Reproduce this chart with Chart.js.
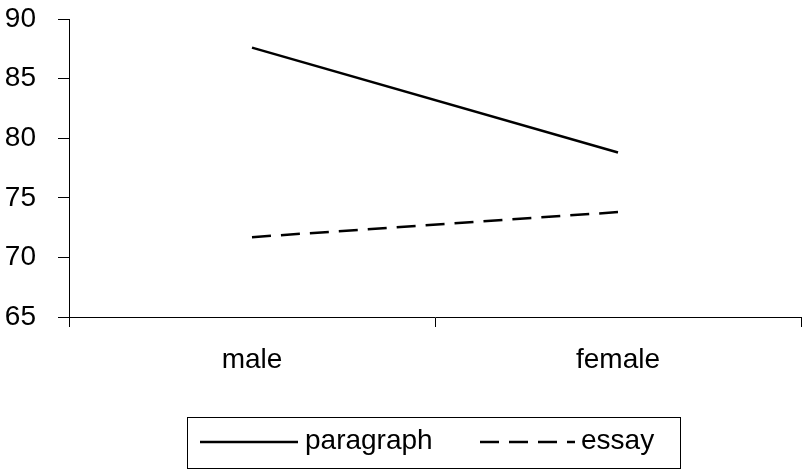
<!DOCTYPE html>
<html>
<head>
<meta charset="utf-8">
<script src="https://cdn.jsdelivr.net/npm/chart.js@4/dist/chart.umd.min.js"></script>
<style>
  body { margin: 0; background: #fff; }
  #linechart-box { width: 802px; height: 473px; }
</style>
</head>
<body>
<div id="linechart-box"><canvas id="linechart-container"></canvas></div>
<script>
//Dados do gráfico
var categorias = ['male', 'female'];
var paragrafo = [87.6, 78.8];
var ensaio = [71.7, 73.8];
var ticksY = [65, 70, 75, 80, 85, 90];

var fonte = "'Liberation Sans', Arial, sans-serif";

//Legenda desenhada à mão, com moldura, como no original
var legendaMoldura = {
  id: 'legendaMoldura',
  afterDraw: function(chart) {
    var ctx = chart.ctx;
    var itens = [
      { ds: chart.data.datasets[0], x0: 200, x1: 298, tx: 305 },
      { ds: chart.data.datasets[1], x0: 480, x1: 575, tx: 581 }
    ];
    var yMeio = 442;
    ctx.save();
    ctx.strokeStyle = '#000';
    ctx.lineWidth = 1;
    ctx.strokeRect(187.5, 417.5, 493, 51);
    itens.forEach(function(item) {
      ctx.beginPath();
      ctx.lineWidth = item.ds.borderWidth;
      ctx.setLineDash(item.ds.borderDash || []);
      ctx.moveTo(item.x0, yMeio);
      ctx.lineTo(item.x1, yMeio);
      ctx.stroke();
      ctx.setLineDash([]);
      ctx.fillStyle = '#000';
      ctx.font = '28px ' + fonte;
      ctx.textBaseline = 'middle';
      ctx.textAlign = 'left';
      ctx.fillText(item.ds.label, item.tx, yMeio - 1);
    });
    ctx.restore();
  }
};

var container = document.getElementById('linechart-container');
var myLineChart = new Chart(container, {
  type: 'line',
  data: {
    labels: categorias,
    datasets: [
      {
        label: 'paragraph',
        data: paragrafo,
        borderColor: '#000',
        backgroundColor: '#000',
        borderWidth: 2.5,
        pointRadius: 0,
        fill: false
      },
      {
        label: 'essay',
        data: ensaio,
        borderColor: '#000',
        backgroundColor: '#000',
        borderWidth: 2.5,
        borderDash: [19, 10],
        pointRadius: 0,
        fill: false
      }
    ]
  },
  options: {
    responsive: true,
    maintainAspectRatio: false,
    animation: false,
    layout: { padding: { top: 19, right: 1, bottom: 55, left: 0 } },
    plugins: {
      tooltip: { enabled: false },
      legend: { display: false }
    },
    scales: {
      x: {
        offset: true,
        afterFit: function(scale) {
          scale.height = 101;
          scale.paddingLeft = 0;
          scale.paddingRight = 0;
        },
        grid: { offset: true, drawOnChartArea: false, color: '#000', tickLength: 10 },
        border: { color: '#000', width: 1 },
        ticks: { color: '#000', font: { family: fonte, size: 28 }, padding: 16 }
      },
      y: {
        min: ticksY[0],
        max: ticksY[ticksY.length - 1],
        afterFit: function(scale) {
          scale.width = 69;
          scale.paddingTop = 0;
          scale.paddingBottom = 0;
        },
        afterBuildTicks: function(scale) {
          scale.ticks = ticksY.map(function(v) { return { value: v }; });
        },
        grid: { drawOnChartArea: false, color: '#000', tickLength: 11 },
        border: { color: '#000', width: 1 },
        ticks: { color: '#000', font: { family: fonte, size: 28 }, padding: 22 }
      }
    }
  },
  plugins: [legendaMoldura]
});
</script>
</body>
</html>
